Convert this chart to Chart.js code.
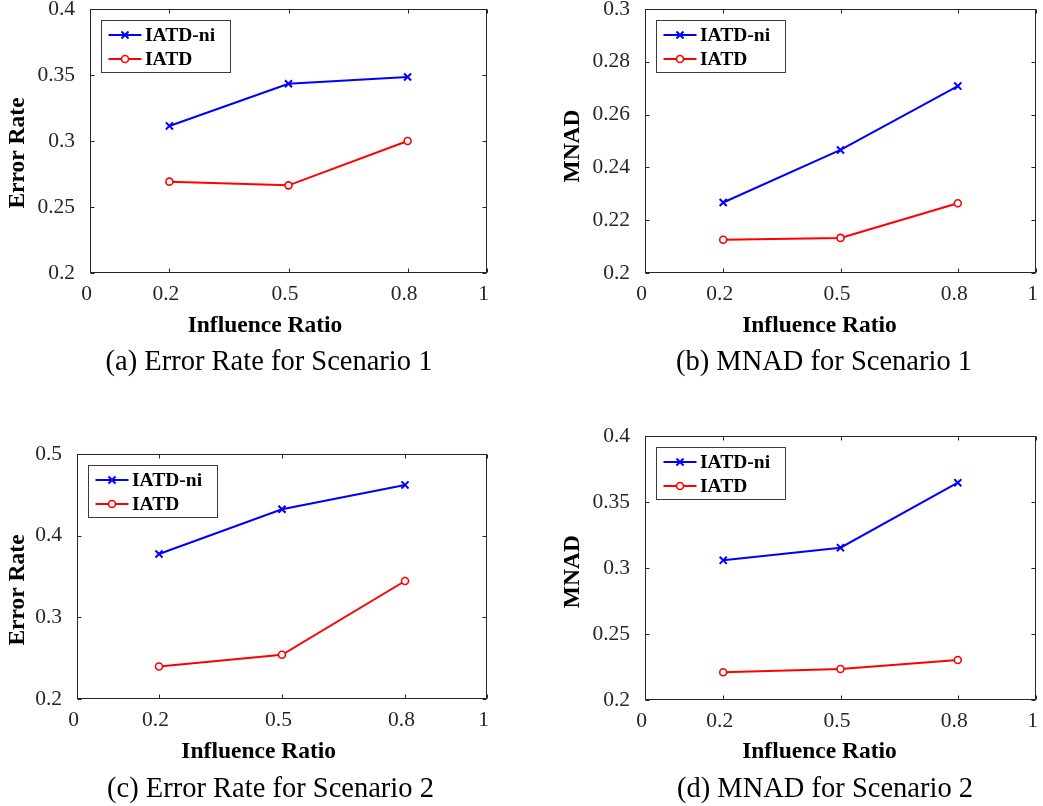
<!DOCTYPE html>
<html><head><meta charset="utf-8">
<script src="https://cdn.jsdelivr.net/npm/chart.js@4/dist/chart.umd.min.js"></script>
<style>
html,body{margin:0;padding:0;background:#fff;}
#wrap{position:relative;width:1043px;height:806px;overflow:hidden;background:#fff;}
canvas{position:absolute;}
</style></head><body><div id="wrap">
<canvas id="ca" width="521" height="400" style="left:0;top:0"></canvas>
<canvas id="cb" width="522" height="400" style="left:521px;top:0"></canvas>
<canvas id="cc" width="521" height="406" style="left:0;top:400px"></canvas>
<canvas id="cd" width="522" height="406" style="left:521px;top:400px"></canvas>
</div>
<script>
// ---- data ----
const xValues = [0.2, 0.5, 0.8];
const xTicks = [0, 0.2, 0.5, 0.8, 1];
const seriesNames = ['IATD-ni', 'IATD'];
const errS1_ni   = [0.3114, 0.3434, 0.3485];
const errS1_iatd = [0.2692, 0.2664, 0.3000];
const mnadS1_ni   = [0.2267, 0.2466, 0.2708];
const mnadS1_iatd = [0.2126, 0.2133, 0.2264];
const errS2_ni   = [0.3775, 0.4324, 0.4621];
const errS2_iatd = [0.2398, 0.2541, 0.3445];
const mnadS2_ni   = [0.3058, 0.3154, 0.3646];
const mnadS2_iatd = [0.2210, 0.2235, 0.2303];
const yTicksA = [0.2, 0.25, 0.3, 0.35, 0.4];
const yTicksB = [0.2, 0.22, 0.24, 0.26, 0.28, 0.3];
const yTicksC = [0.2, 0.3, 0.4, 0.5];
const yTicksD = [0.2, 0.25, 0.3, 0.35, 0.4];
const yTitles = ['Error Rate', 'MNAD', 'Error Rate', 'MNAD'];
const xTitle = 'Influence Ratio';
const captions = ['(a) Error Rate for Scenario 1', '(b) MNAD for Scenario 1',
                  '(c) Error Rate for Scenario 2', '(d) MNAD for Scenario 2'];

// ---- layout (canvas coordinates) ----
const panels = [
  {id:'ca', ni:errS1_ni, iatd:errS1_iatd, yTicks:yTicksA, W:521, H:400,
   area:{l:90, t:9, r:487, b:273}, yT:{x:17.5, y:153}, xT:{x:265, y:331.5}, cap:{x:269, y:370}},
  {id:'cb', ni:mnadS1_ni, iatd:mnadS1_iatd, yTicks:yTicksB, W:522, H:400,
   area:{l:124, t:9, r:521, b:273}, yT:{x:52.3, y:146}, xT:{x:298.5, y:331.5}, cap:{x:303, y:370}},
  {id:'cc', ni:errS2_ni, iatd:errS2_iatd, yTicks:yTicksC, W:521, H:406,
   area:{l:77, t:54, r:487, b:299}, yT:{x:18, y:190}, xT:{x:258.7, y:358}, cap:{x:270.5, y:396.7}},
  {id:'cd', ni:mnadS2_ni, iatd:mnadS2_iatd, yTicks:yTicksD, W:522, H:406,
   area:{l:124, t:36, r:521, b:300}, yT:{x:52.3, y:171.7}, xT:{x:298.5, y:358.3}, cap:{x:304, y:396.7}}
];

const AXIS = '#262626';
const SERIF = '"Liberation Serif", "Times New Roman", serif';

panels.forEach((p, idx) => {
  const decor = {
    id: 'decor' + idx,
    afterDraw(chart) {
      const ctx = chart.ctx;
      const ca = chart.chartArea;
      const xs = chart.scales.x, ys = chart.scales.y;
      const L = Math.round(ca.left) + 0.5, T = Math.round(ca.top) + 0.5;
      const R = Math.round(ca.right) - 0.5, B = Math.round(ca.bottom) - 0.5;
      ctx.save();
      // frame
      ctx.strokeStyle = AXIS; ctx.lineWidth = 1;
      ctx.strokeRect(L, T, R - L, B - T);
      // inward ticks on all sides
      const tl = 4;
      ctx.beginPath();
      xs.ticks.forEach(t => {
        const px = Math.round(xs.getPixelForValue(t.value)) + 0.5;
        ctx.moveTo(px, B); ctx.lineTo(px, B - tl);
        ctx.moveTo(px, T); ctx.lineTo(px, T + tl);
      });
      ys.ticks.forEach(t => {
        const py = Math.round(ys.getPixelForValue(t.value)) + 0.5;
        ctx.moveTo(L, py); ctx.lineTo(L + tl, py);
        ctx.moveTo(R, py); ctx.lineTo(R - tl, py);
      });
      ctx.stroke();
      // legend
      const bx = Math.round(ca.left) + 11.5, by = Math.round(ca.top) + 11.5;
      const bw = 129, bh = 52;
      ctx.fillStyle = '#fff';
      ctx.fillRect(bx, by, bw, bh);
      ctx.strokeStyle = '#3a3a3a'; ctx.lineWidth = 1;
      ctx.strokeRect(bx, by, bw, bh);
      const rows = [by + 14.5, by + 38.5];
      chart.data.datasets.forEach((ds, i) => {
        const ry = rows[i];
        ctx.strokeStyle = ds.borderColor; ctx.lineWidth = 2;
        ctx.beginPath(); ctx.moveTo(bx + 7, ry); ctx.lineTo(bx + 40, ry); ctx.stroke();
        ctx.fillStyle = ds.pointBackgroundColor || ds.borderColor;
        ctx.lineWidth = ds.pointBorderWidth;
        Chart.helpers.drawPoint(ctx, {pointStyle: ds.pointStyle, radius: ds.pointRadius,
          rotation: 0, borderWidth: ds.pointBorderWidth}, bx + 23.5, ry);
        ctx.fillStyle = '#000';
        ctx.font = 'bold 19.5px ' + SERIF;
        ctx.textAlign = 'left'; ctx.textBaseline = 'middle';
        ctx.fillText(ds.label, bx + 43.5, ry + 0.5);
      });
      // axis titles
      ctx.fillStyle = '#000';
      ctx.font = 'bold 23.5px ' + SERIF;
      ctx.textAlign = 'center';
      ctx.textBaseline = 'alphabetic';
      ctx.fillText(xTitle, p.xT.x, p.xT.y);
      ctx.save();
      ctx.translate(p.yT.x, p.yT.y);
      ctx.rotate(-Math.PI / 2);
      ctx.textBaseline = 'middle';
      ctx.fillText(yTitles[idx], 0, 0);
      ctx.restore();
      // caption
      ctx.font = '28.5px ' + SERIF;
      ctx.textAlign = 'center'; ctx.textBaseline = 'alphabetic';
      ctx.fillText(captions[idx], p.cap.x, p.cap.y);
      ctx.restore();
    }
  };

  const zeroPad = s => { s.paddingLeft = 0; s.paddingRight = 0; s.paddingTop = 0; s.paddingBottom = 0; };

  new Chart(document.getElementById(p.id), {
    type: 'line',
    data: {
      datasets: [
        {label: seriesNames[0], data: xValues.map((x, i) => ({x: x, y: p.ni[i]})),
         borderColor: '#0000ff', backgroundColor: '#0000ff', borderWidth: 2,
         pointStyle: 'crossRot', pointRadius: 5, pointBorderWidth: 2,
         pointBackgroundColor: '#0000ff', tension: 0, fill: false},
        {label: seriesNames[1], data: xValues.map((x, i) => ({x: x, y: p.iatd[i]})),
         borderColor: '#ff0000', backgroundColor: '#ff0000', borderWidth: 2,
         pointStyle: 'circle', pointRadius: 3.5, pointBorderWidth: 1.6,
         pointBackgroundColor: '#ffffff', tension: 0, fill: false}
      ]
    },
    options: {
      responsive: false, animation: false, devicePixelRatio: 1,
      layout: {padding: {left: 0, top: p.area.t, right: p.W - p.area.r, bottom: 0}},
      plugins: {legend: {display: false}, tooltip: {enabled: false}, title: {display: false}},
      scales: {
        x: {
          type: 'linear', min: xTicks[0], max: xTicks[xTicks.length - 1],
          grid: {display: false, drawTicks: false, tickLength: 0}, border: {display: false},
          afterBuildTicks: s => { s.ticks = xTicks.map(v => ({value: v})); },
          afterFit: s => { s.height = p.H - p.area.b; zeroPad(s); },
          ticks: {autoSkip: false, maxRotation: 0, minRotation: 0, padding: 8, labelOffset: -3.5,
                  color: AXIS, font: {family: SERIF, size: 21.5},
                  callback: v => String(v)}
        },
        y: {
          type: 'linear', min: p.yTicks[0], max: p.yTicks[p.yTicks.length - 1],
          grid: {display: false, drawTicks: false, tickLength: 0}, border: {display: false},
          afterBuildTicks: s => { s.ticks = p.yTicks.map(v => ({value: v})); },
          afterFit: s => { s.width = p.area.l; zeroPad(s); },
          ticks: {autoSkip: false, padding: 15, color: AXIS,
                  font: {family: SERIF, size: 21.5},
                  callback: v => String(v)}
        }
      }
    },
    plugins: [decor]
  });
});
</script>
</body></html>
